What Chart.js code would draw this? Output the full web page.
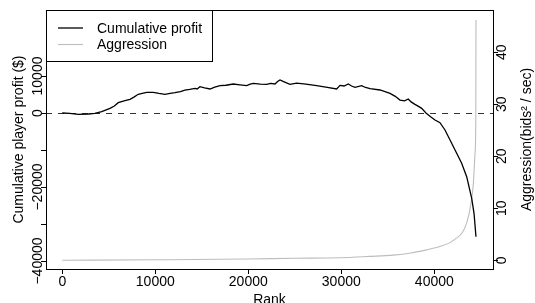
<!DOCTYPE html>
<html>
<head>
<meta charset="utf-8">
<script src="https://cdn.jsdelivr.net/npm/chart.js@4"></script>
<style>
  html, body { margin: 0; padding: 0; background: #fff; }
  canvas { display: block; }
</style>
</head>
<body>
<canvas id="chart" width="535" height="303"></canvas>
<script>
// ---- data ----
const profitRank = [0, 800, 1720, 2800, 3500, 4240, 5130, 5600, 6020, 6740, 7280, 7700, 8170, 8600, 9070, 9780,
  10400, 11040, 11600, 12120, 12700, 13190, 13700, 14270, 14500, 14800, 15300, 15880, 16400, 16960, 17600,
  18390, 19100, 19830, 20200, 20540, 21300, 21980, 22400, 22870, 23150, 23410, 23800, 24480, 25200, 26200,
  27350, 28500, 29500, 29860, 30300, 30750, 31100, 31470, 32190, 32600, 33090, 34160, 34700, 35240, 35800,
  36310, 36800, 37200, 37500, 37920, 38300, 38640, 39100, 39600, 40075, 40610, 41150, 41690, 42230, 42940,
  43480, 44020, 44270, 44480];
const profitValue = [0, -100, -350, -270, -100, 350, 1270, 1900, 2800, 3330, 3700, 4300, 5050, 5300, 5600, 5600,
  5300, 5050, 5300, 5500, 5800, 6200, 6400, 6670, 6500, 7100, 6800, 6490, 7000, 7390, 7500,
  7840, 7600, 7390, 7800, 8020, 7800, 7750, 8000, 7840, 8500, 8920, 8500, 7750, 8100, 7800,
  7390, 6900, 6490, 7480, 7300, 7840, 7300, 6940, 7390, 6900, 6580, 6220, 5800, 5320, 4500,
  3510, 3300, 3780, 3000, 2340, 1800, 1260, 0, -1000, -1890, -2610, -4590, -7300, -10000, -13600,
  -17200, -23050, -27100, -33430];

const aggrRank = [0, 10000, 19830, 25000, 29860, 33000, 35590, 37500, 39180, 40500, 41690, 42400, 43000,
  43500, 43950, 44200, 44380, 44460, 44480];
const aggrValue = [0, 0.1, 0.25, 0.4, 0.5, 0.75, 1.0, 1.4, 2.0, 2.6, 3.4, 4.3, 5.3,
  7.3, 11, 14.8, 20.6, 27, 46.2];

const xTicks = [0, 10000, 20000, 30000, 40000];
const profitTicks = [-40000, -30000, -20000, -10000, 0, 10000];
const profitTickLabels = ['\u221240000', '', '\u221220000', '', '0', '10000'];
const aggrTicks = [0, 10, 20, 30, 40];
const aggrTickLabels = ['0', '10', '20', '30', '40'];

const seriesNames = ['Cumulative profit', 'Aggression'];
const seriesColors = ['#000000', '#bdbdbd'];

Chart.defaults.font.family = "'Liberation Sans', Arial, sans-serif";
Chart.defaults.font.size = 14;
Chart.defaults.color = '#000';

const FONT = "14px 'Liberation Sans', Arial, sans-serif";

// R-like decorations: box, dashed zero line, rotated y labels, titles, legend
const rStyle = {
  id: 'rStyle',
  beforeDatasetsDraw(chart) {
    const ctx = chart.ctx, a = chart.chartArea;
    const y0 = Math.round(chart.scales.y.getPixelForValue(0)) + 0.5;
    ctx.save();
    ctx.strokeStyle = '#333';
    ctx.lineWidth = 1;
    ctx.setLineDash([6, 6]);
    ctx.beginPath();
    ctx.moveTo(a.left, y0);
    ctx.lineTo(a.right, y0);
    ctx.stroke();
    ctx.restore();
  },
  afterDraw(chart) {
    const ctx = chart.ctx, a = chart.chartArea;
    ctx.save();
    // box
    ctx.strokeStyle = '#000';
    ctx.lineWidth = 1;
    ctx.strokeRect(Math.round(a.left) + 0.5, Math.round(a.top) + 0.5,
      Math.round(a.right - a.left), Math.round(a.bottom - a.top));

    ctx.font = FONT;
    ctx.fillStyle = '#000';
    ctx.textBaseline = 'alphabetic';
    ctx.textAlign = 'center';

    // rotated tick labels, left
    profitTicks.forEach((v, i) => {
      const py = chart.scales.y.getPixelForValue(v);
      ctx.save();
      ctx.translate(42, py);
      ctx.rotate(-Math.PI / 2);
      ctx.fillText(profitTickLabels[i], 0, 0);
      ctx.restore();
    });
    // rotated tick labels, right
    aggrTicks.forEach((v, i) => {
      const py = chart.scales.y2.getPixelForValue(v);
      ctx.save();
      ctx.translate(506, py);
      ctx.rotate(-Math.PI / 2);
      ctx.fillText(aggrTickLabels[i], 0, 0);
      ctx.restore();
    });

    // axis titles
    const midY = (a.top + a.bottom) / 2;
    ctx.save();
    ctx.translate(23, midY);
    ctx.rotate(-Math.PI / 2);
    ctx.fillText('Cumulative player profit ($)', 0, 0);
    ctx.restore();

    ctx.save();
    ctx.translate(531, midY);
    ctx.rotate(-Math.PI / 2);
    ctx.fillText('Aggression(bids\u00B2 / sec)', 0, 0);
    ctx.restore();

    ctx.fillText('Rank', (a.left + a.right) / 2, 304);

    // legend
    const lx = Math.round(a.left) + 0.5, ly = Math.round(a.top) + 0.5;
    ctx.fillStyle = '#fff';
    ctx.fillRect(lx, ly, 166, 51);
    ctx.strokeStyle = '#000';
    ctx.strokeRect(lx, ly, 166, 51);
    const rows = [28, 44.5];
    seriesNames.forEach((name, i) => {
      ctx.strokeStyle = seriesColors[i];
      ctx.lineWidth = i === 0 ? 1.3 : 1.1;
      ctx.beginPath();
      ctx.moveTo(58, rows[i]);
      ctx.lineTo(83, rows[i]);
      ctx.stroke();
      ctx.fillStyle = '#000';
      ctx.textAlign = 'left';
      ctx.textBaseline = 'middle';
      ctx.fillText(name, 97, rows[i] + 1);
    });
    ctx.restore();
  }
};

const toPoints = (xs, ys) => xs.map((x, i) => ({ x: x, y: ys[i] }));

new Chart(document.getElementById('chart').getContext('2d'), {
  type: 'line',
  data: {
    datasets: [{
      label: seriesNames[0],
      data: toPoints(profitRank, profitValue),
      borderColor: seriesColors[0],
      borderWidth: 1.3,
      pointRadius: 0,
      tension: 0,
      yAxisID: 'y'
    }, {
      label: seriesNames[1],
      data: toPoints(aggrRank, aggrValue),
      borderColor: seriesColors[1],
      borderWidth: 1.1,
      pointRadius: 0,
      cubicInterpolationMode: 'monotone',
      yAxisID: 'y2'
    }]
  },
  options: {
    responsive: false,
    animation: false,
    layout: { padding: { top: 10, left: 0, right: 0, bottom: 0 } },
    plugins: {
      legend: { display: false },
      tooltip: { enabled: false }
    },
    scales: {
      x: {
        type: 'linear',
        min: -1750,
        max: 46310,
        afterBuildTicks: s => { s.ticks = xTicks.map(v => ({ value: v })); },
        afterFit: s => { s.height = 34; },
        grid: { drawOnChartArea: false, tickLength: 5, color: '#000' },
        border: { display: false },
        ticks: { padding: 0, maxRotation: 0, autoSkip: false, callback: v => String(v) }
      },
      y: {
        type: 'linear',
        position: 'left',
        min: -42160,
        max: 27840,
        afterBuildTicks: s => { s.ticks = profitTicks.map(v => ({ value: v })); },
        afterFit: s => { s.width = 46; },
        grid: { drawOnChartArea: false, tickLength: 5, color: '#000' },
        border: { display: false },
        ticks: { display: false }
      },
      y2: {
        type: 'linear',
        position: 'right',
        min: -1.67,
        max: 48.1,
        afterBuildTicks: s => { s.ticks = aggrTicks.map(v => ({ value: v })); },
        afterFit: s => { s.width = 42; },
        grid: { drawOnChartArea: false, tickLength: 5, color: '#000' },
        border: { display: false },
        ticks: { display: false }
      }
    }
  },
  plugins: [rStyle]
});
</script>
</body>
</html>
